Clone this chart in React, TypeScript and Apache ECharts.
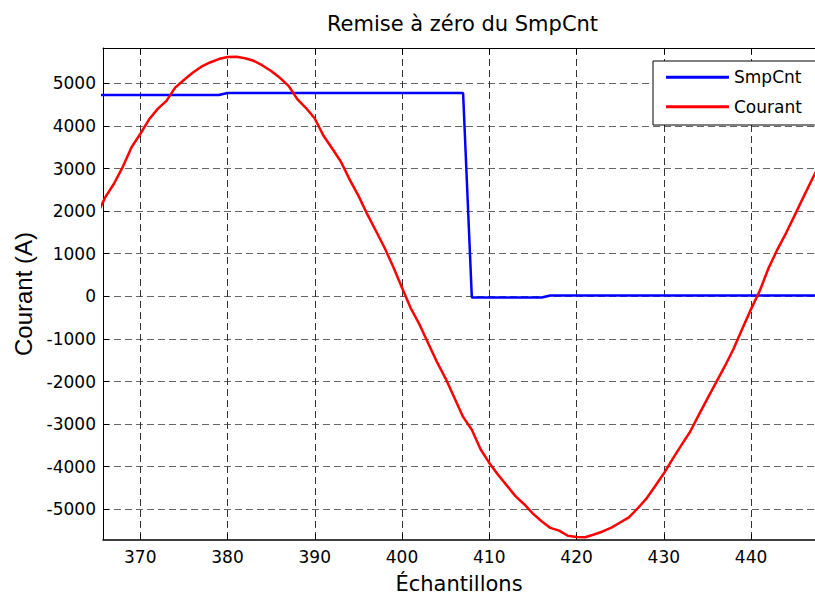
import { useEffect, useRef } from "react";
import * as echarts from "echarts";

const chartTitle = "Remise à zéro du SmpCnt";
const xAxisName = "Échantillons";
const yAxisName = "Courant (A)";
const seriesNames = ["SmpCnt", "Courant"];
const seriesColors = ["#0000FF", "#FF0000"];

const xRange = [365.73, 447.33];
const yRange = [-5720, 5830];

const samples = [
  365, 366, 367, 368, 369, 370, 371, 372, 373, 374, 375, 376, 377, 378, 379,
  380, 381, 382, 383, 384, 385, 386, 387, 388, 389, 390, 391, 392, 393, 394,
  395, 396, 397, 398, 399, 400, 401, 402, 403, 404, 405, 406, 407, 408, 409,
  410, 411, 412, 413, 414, 415, 416, 417, 418, 419, 420, 421, 422, 423, 424,
  425, 426, 427, 428, 429, 430, 431, 432, 433, 434, 435, 436, 437, 438, 439,
  440, 441, 442, 443, 444, 445, 446, 447, 448,
];

const smpCnt = [
  4725, 4725, 4725, 4725, 4725, 4725, 4725, 4725, 4725, 4725, 4725, 4725, 4725, 4725, 4725,
  4775, 4775, 4775, 4775, 4775, 4775, 4775, 4775, 4775, 4775, 4775, 4775, 4775, 4775, 4775,
  4775, 4775, 4775, 4775, 4775, 4775, 4775, 4775, 4775, 4775, 4775, 4775, 4775, -25, -25,
  -25, -25, -25, -25, -25, -25, -25, 20, 20, 20, 20, 20, 20, 20, 20,
  20, 20, 20, 20, 20, 20, 20, 20, 20, 20, 20, 20, 20, 20, 20,
  20, 20, 20, 20, 20, 20, 20, 20, 20,
];

const courant = [
  1900, 2330, 2650, 3040, 3500, 3811, 4150, 4400, 4590, 4900, 5080, 5250, 5390, 5490, 5570,
  5620, 5625, 5590, 5530, 5420, 5290, 5130, 4940, 4630, 4420, 4175, 3770, 3470, 3160, 2740,
  2364, 1935, 1540, 1140, 690, 200, -280, -660, -1100, -1540, -1930, -2380, -2830, -3130, -3590,
  -3910, -4190, -4437, -4690, -4880, -5100, -5280, -5436, -5500, -5620, -5650, -5655, -5590, -5520, -5430,
  -5310, -5190, -4980, -4750, -4460, -4160, -3820, -3500, -3185, -2790, -2400, -2020, -1640, -1230, -760,
  -300, 130, 660, 1090, 1480, 1900, 2330, 2750, 3160,
];

const seriesValues = [smpCnt, courant];

export default function App() {
  const ref = useRef<HTMLDivElement>(null);
  useEffect(() => {
    const chart = echarts.init(ref.current!, null, { renderer: "svg" });
    const font = "'DejaVu Sans', sans-serif";
    chart.setOption({
      animation: false,
      backgroundColor: "#ffffff",
      color: seriesColors,
      grid: { left: 103, right: 0, top: 48, bottom: 57, containLabel: false },
      graphic: [
        {
          type: "text",
          x: 462.5,
          y: 24,
          style: {
            text: chartTitle,
            fontSize: 21,
            fontFamily: font,
            fill: "#000",
            align: "center",
            verticalAlign: "middle",
          },
        },
      ],
      legend: {
        orient: "vertical",
        left: 653,
        top: 61,
        data: seriesNames.map((n) => ({ name: n, icon: "rect" })),
        itemWidth: 63,
        itemHeight: 3,
        itemGap: 12.4,
        padding: [7.8, 14, 9.8, 13],
        borderColor: "#000",
        borderWidth: 1,
        borderRadius: 0,
        backgroundColor: "#fff",
        selectedMode: false,
        itemStyle: { borderWidth: 0 },
        textStyle: { fontSize: 17, fontFamily: font, color: "#000", lineHeight: 17 },
      },
      xAxis: [
        {
          type: "value",
          position: "bottom",
          min: xRange[0],
          max: xRange[1],
          splitNumber: 8,
          minInterval: 10,
          maxInterval: 10,
          name: xAxisName,
          nameLocation: "middle",
          nameGap: 33,
          nameTextStyle: { fontSize: 21, fontFamily: font, color: "#000" },
          axisLine: { show: true, onZero: false, lineStyle: { color: "#000", width: 1.5 } },
          axisTick: { show: true, inside: true, length: 6, lineStyle: { color: "#000" } },
          axisLabel: {
            fontSize: 17,
            fontFamily: font,
            color: "#000",
            margin: 8,
            showMinLabel: false,
            showMaxLabel: false,
            formatter: (v: number) => String(v),
          },
          splitLine: {
            show: true,
            showMinLine: false,
            showMaxLine: false,
            lineStyle: { type: [7, 4], color: "#333", width: 1 },
          },
        },
        {
          type: "value",
          position: "top",
          min: xRange[0],
          max: xRange[1],
          splitNumber: 8,
          minInterval: 10,
          maxInterval: 10,
          axisLine: { show: true, onZero: false, lineStyle: { color: "#000", width: 1 } },
          axisTick: { show: true, inside: true, length: 6, lineStyle: { color: "#000" } },
          axisLabel: { show: false },
          splitLine: { show: false },
        },
      ],
      yAxis: {
        type: "value",
        min: yRange[0],
        max: yRange[1],
        splitNumber: 11,
        minInterval: 1000,
        maxInterval: 1000,
        name: yAxisName,
        nameLocation: "middle",
        nameGap: 66,
        nameTextStyle: { fontSize: 24, fontFamily: "'Liberation Sans', Arial, sans-serif", color: "#000" },
        axisLine: { show: true, onZero: false, lineStyle: { color: "#000", width: 1 } },
        axisTick: { show: true, inside: true, length: 6, lineStyle: { color: "#000" } },
        axisLabel: {
          fontSize: 17,
          fontFamily: font,
          color: "#000",
          margin: 7,
          showMinLabel: false,
          showMaxLabel: false,
          formatter: (v: number) => String(v),
        },
        splitLine: {
          show: true,
          showMinLine: false,
          showMaxLine: false,
          lineStyle: { type: [7, 4], color: "#666", width: 1 },
        },
      },
      series: seriesNames.map((name, k) => ({
        name,
        type: "line",
        xAxisIndex: 0,
        symbol: "none",
        showSymbol: false,
        clip: true,
        itemStyle: { color: seriesColors[k] },
        lineStyle: { color: seriesColors[k], width: 2.5 },
        data: samples.map((s, i) => [s, seriesValues[k][i]]),
      })),
    });
    return () => chart.dispose();
  }, []);
  return (
    <div
      ref={ref}
      style={{ position: "absolute", left: 0, top: 0, width: 815, height: 599 }}
    />
  );
}
